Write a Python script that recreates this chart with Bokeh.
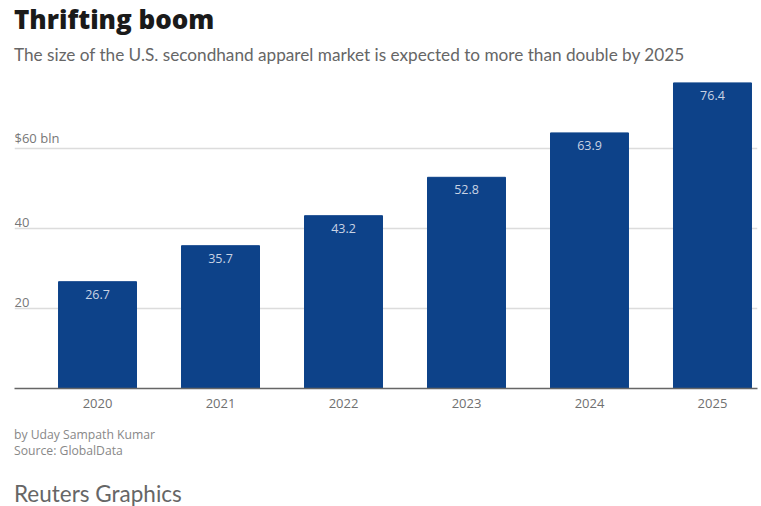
from bokeh.plotting import figure
from bokeh.models import ColumnDataSource, FixedTicker, Label, LabelSet, Div
from bokeh.layouts import column
from bokeh.core.properties import value
from bokeh.embed import file_html
from bokeh.resources import INLINE

years = ["2020", "2021", "2022", "2023", "2024", "2025"]
values = [26.7, 35.7, 43.2, 52.8, 63.9, 76.4]
y_ticks = [20, 40, 60]
y_tick_labels = ["20", "40", "$60 bln"]

title_text = "Thrifting boom"
subtitle_text = "The size of the U.S. secondhand apparel market is expected to more than double by 2025"
byline = "by Uday Sampath Kumar"
source_text = "Source: GlobalData"
brand = "Reuters Graphics"

BAR = "#0d4289"
FONT = "Open Sans"

header = Div(width=761, height=70, margin=0, text=f"""
<div style="position:relative;width:761px;height:70px;">
<div style="position:absolute;left:14px;top:4px;font-family:'Open Sans';font-weight:800;font-size:26px;line-height:30px;color:#1a1a1a;white-space:nowrap;">{title_text}</div>
<div style="position:absolute;left:14px;top:44px;font-family:Lato;font-size:17.2px;line-height:22px;color:#666666;white-space:nowrap;">{subtitle_text}</div>
</div>""")

footer = Div(width=761, height=86, margin=0, text=f"""
<div style="position:relative;width:761px;height:86px;">
<div style="position:absolute;left:14px;top:7px;font-family:'Open Sans';font-size:12.2px;line-height:16px;color:#888888;white-space:nowrap;">{byline}</div>
<div style="position:absolute;left:14px;top:23px;font-family:'Open Sans';font-size:12.2px;line-height:16px;color:#888888;white-space:nowrap;">{source_text}</div>
<div style="position:absolute;left:14px;top:62px;font-family:Lato;font-size:22.5px;line-height:24px;color:#666666;white-space:nowrap;">{brand}</div>
</div>""")

xs = list(range(len(years)))
src = ColumnDataSource(dict(x=xs, top=values, lab=[f"{v:.1f}" for v in values]))

p = figure(width=761, height=350, output_backend="svg", toolbar_location=None,
           x_range=(-0.675, 5.366), y_range=(0, 78.25), margin=0,
           min_border_left=14, min_border_right=4, min_border_top=5, min_border_bottom=32)
p.outline_line_color = None

p.vbar(x="x", top="top", width=0.634, source=src, color=BAR)

p.add_layout(LabelSet(x="x", y="top", text="lab", source=src, text_align="center",
                      text_baseline="top", y_offset=-8, text_color="#c9d3e4",
                      text_font_size=value("12.5px"), text_font=value(FONT)))

p.yaxis.visible = False
p.ygrid.ticker = FixedTicker(ticks=y_ticks)
p.ygrid.grid_line_color = "#dcdcdc"
p.ygrid.grid_line_width = 1.5
p.xgrid.visible = False

p.xaxis.ticker = FixedTicker(ticks=xs)
p.xaxis.major_label_overrides = {i: y for i, y in enumerate(years)}
p.xaxis.major_tick_line_color = None
p.xaxis.minor_tick_line_color = None
p.xaxis.axis_line_color = "#666666"
p.xaxis.axis_line_width = 1.5
p.xaxis.major_label_text_font = FONT
p.xaxis.major_label_text_font_size = "13px"
p.xaxis.major_label_text_color = "#707070"
p.xaxis.major_label_standoff = 4

for t, lab in zip(y_ticks, y_tick_labels):
    p.add_layout(Label(x=0, x_units="screen", y=t, text=lab, y_offset=2,
                       text_baseline="bottom", text_font=FONT, text_font_size="13px",
                       text_color="#777777"))

layout = column(header, p, footer, spacing=0)
open("out.html", "w").write(file_html(layout, INLINE))
